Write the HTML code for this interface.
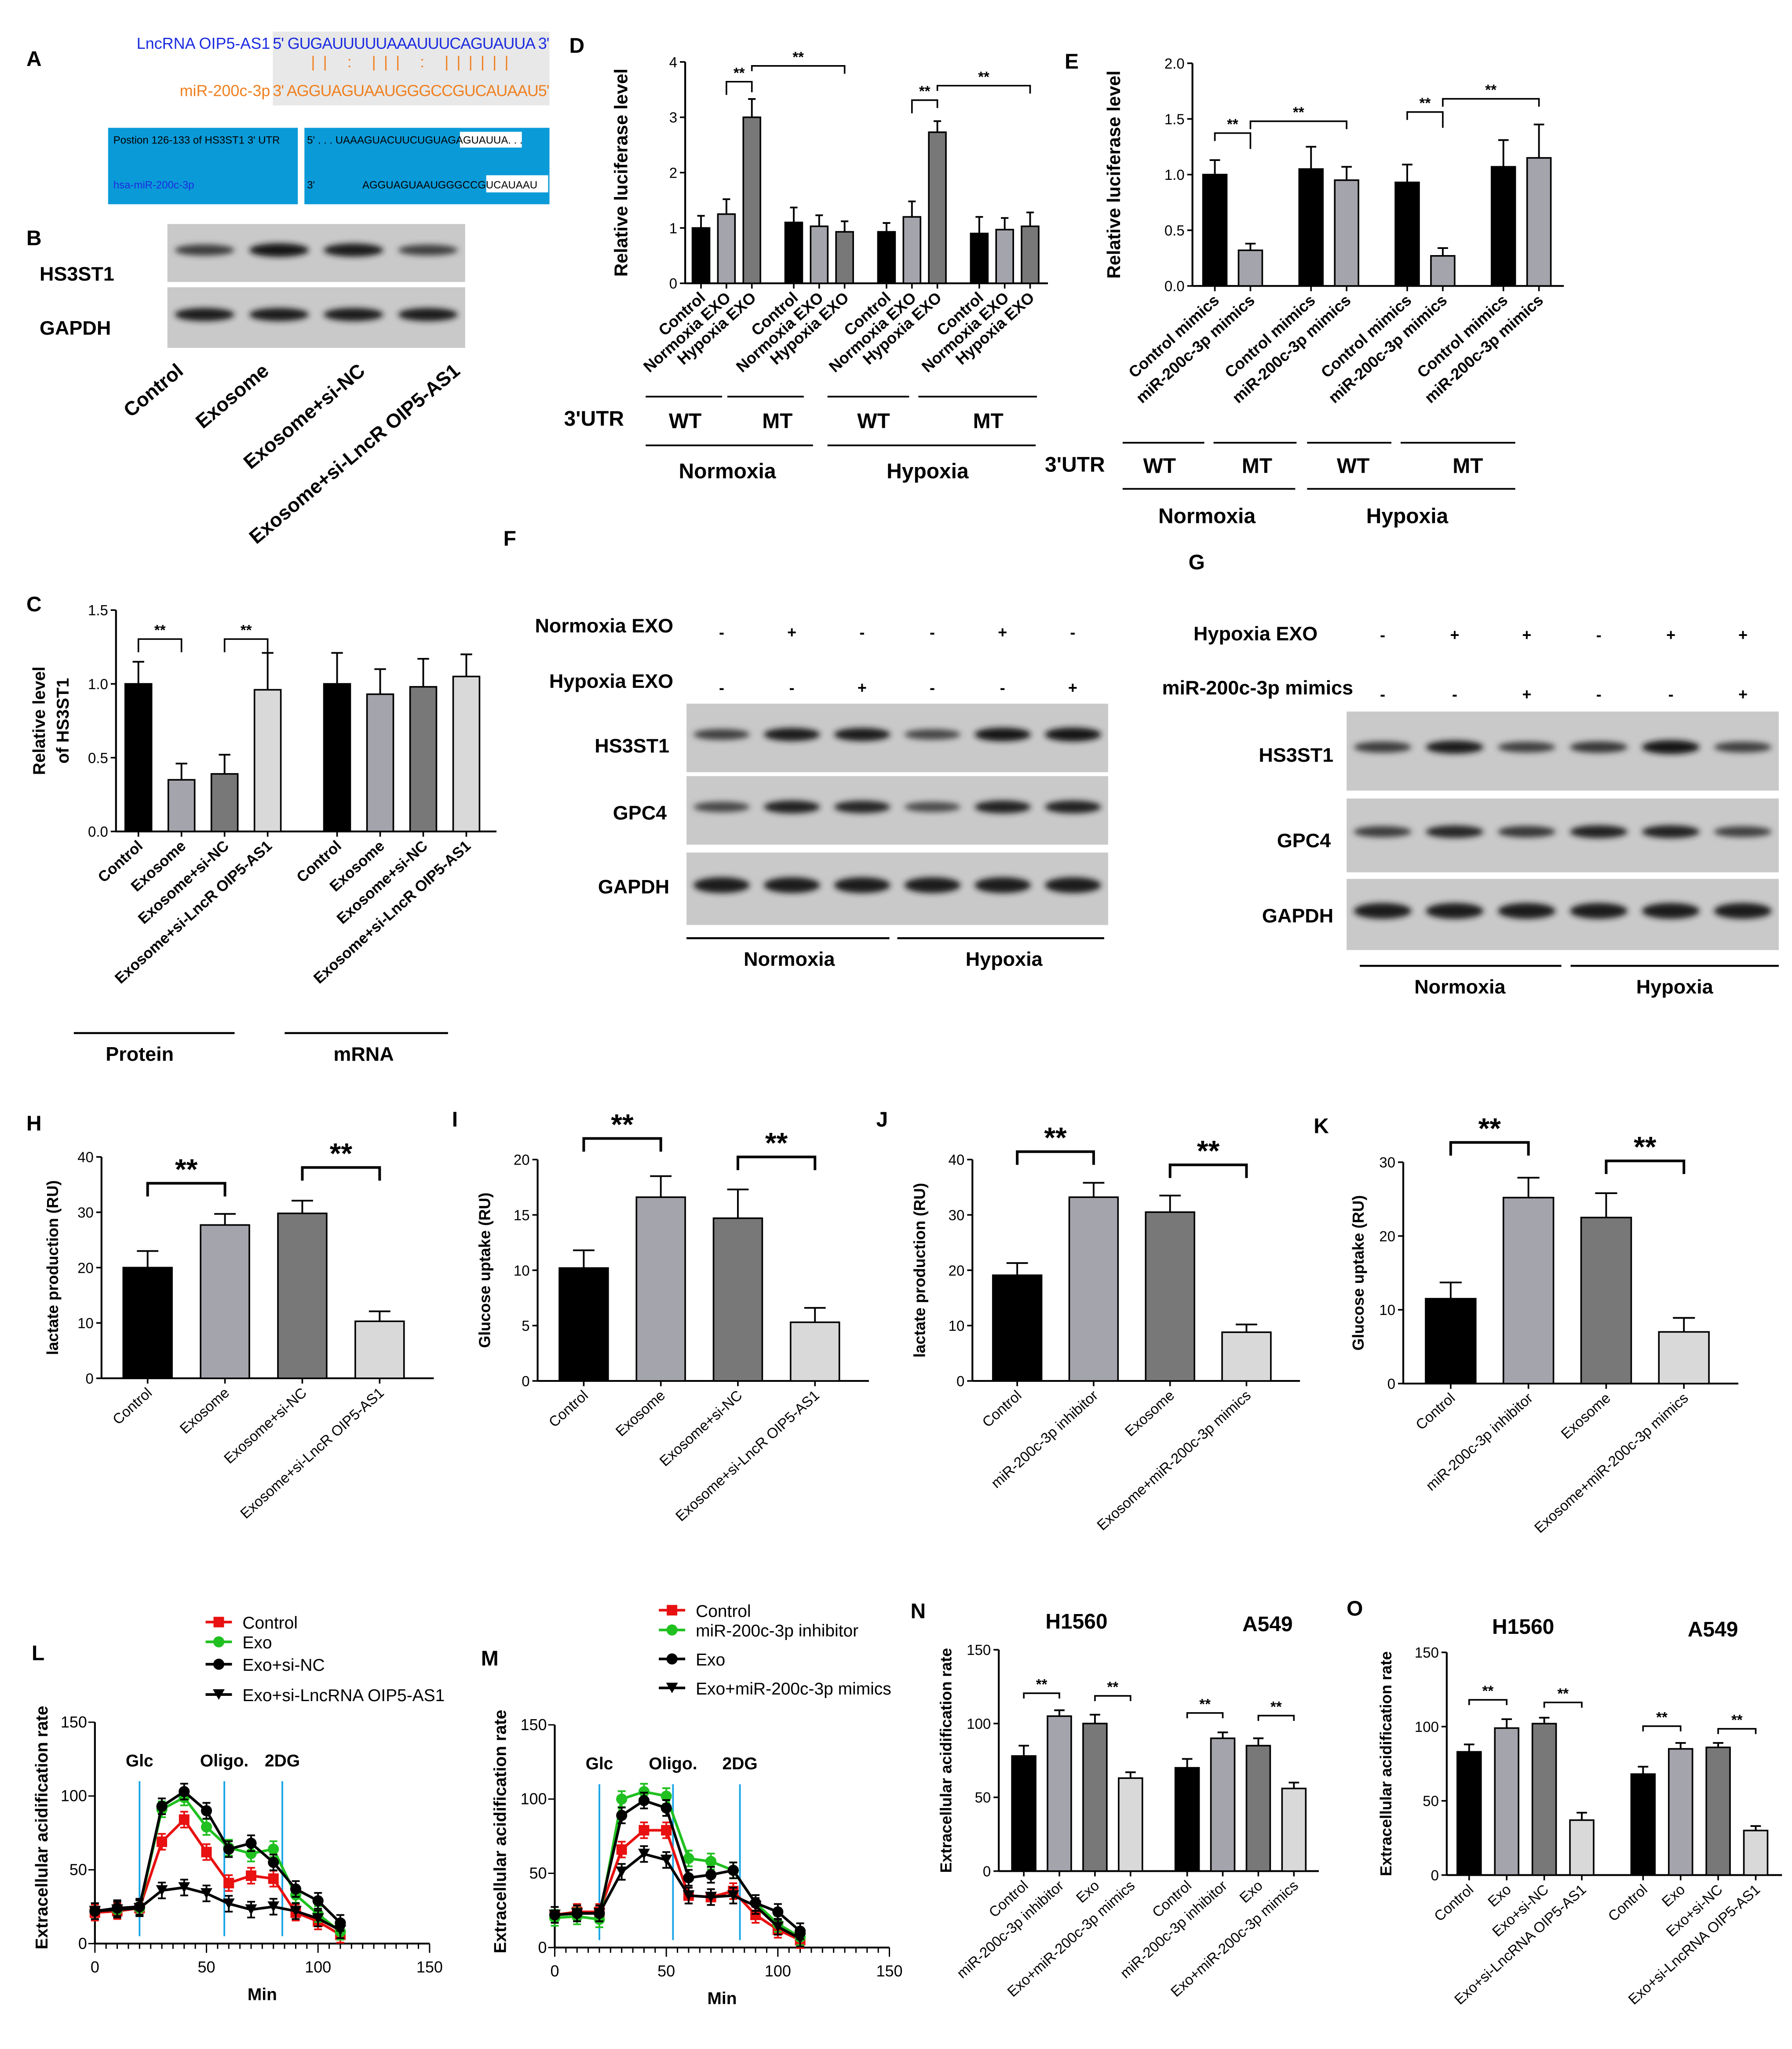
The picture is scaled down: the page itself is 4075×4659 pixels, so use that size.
<!DOCTYPE html>
<html><head><meta charset="utf-8"><style>
html,body{margin:0;padding:0;background:#fff}
svg{display:block}
text{font-family:"Liberation Sans",sans-serif}
.b{font-weight:bold}
</style></head><body>
<svg id="fig" xmlns="http://www.w3.org/2000/svg" width="4075" height="4659" viewBox="0 0 1360 1555">
<defs>
<filter id="blur" x="-20%" y="-50%" width="140%" height="200%"><feGaussianBlur stdDeviation="2.2"/></filter>
</defs>
<g id="static" font-weight="bold">
<text x="20" y="50" font-size="16">A</text>
<text x="20" y="186" font-size="16">B</text>
<text x="20" y="464" font-size="16">C</text>
<text x="432" y="40" font-size="16">D</text>
<text x="808" y="52" font-size="16">E</text>
<text x="382" y="414" font-size="16">F</text>
<text x="902" y="432" font-size="16">G</text>
<text x="20" y="858" font-size="16">H</text>
<text x="343" y="855" font-size="16">I</text>
<text x="665" y="855" font-size="16">J</text>
<text x="997" y="860" font-size="16">K</text>
<text x="24" y="1260" font-size="16">L</text>
<text x="365" y="1264" font-size="16">M</text>
<text x="691" y="1228" font-size="16">N</text>
<text x="1022" y="1226" font-size="16">O</text>
</g>
<g font-size="12">
<rect x="207" y="24" width="210" height="56" fill="#e8e8e8"/>
<text x="205" y="37" text-anchor="end" fill="#1a2be0">LncRNA OIP5-AS1</text>
<text x="207" y="37" fill="#1a2be0" textLength="210">5' GUGAUUUUUAAAUUUCAGUAUUA 3'</text>
<text x="236" y="51" fill="#f08020" font-size="12" textLength="150">|| : |||  :  ||||||</text>
<text x="205" y="73" text-anchor="end" fill="#f08020">miR-200c-3p</text>
<text x="207" y="73" fill="#f08020" textLength="210">3' AGGUAGUAAUGGGCCGUCAUAAU5'</text>
<rect x="82" y="97" width="144" height="58" fill="#0a9ad8"/>
<rect x="231" y="97" width="186" height="58" fill="#0a9ad8"/>
<rect x="349" y="100" width="47" height="12" fill="#fff"/>
<rect x="369" y="133" width="47" height="13" fill="#fff"/>
<text x="86" y="109" font-size="8">Postion 126-133 of HS3ST1 3' UTR</text>
<text x="86" y="143" font-size="8" fill="#1a2be0">hsa-miR-200c-3p</text>
<text x="233" y="109" font-size="8">5' . . . UAAAGUACUUCUGUAGAGUAUUA. . .</text>
<text x="233" y="143" font-size="8">3'</text>
<text x="275" y="143" font-size="8">AGGUAGUAAUGGGCCGUCAUAAU</text>
</g>
<g id="blots"></g>
<g id="texts" font-weight="bold">
<text x="30" y="213" font-size="15">HS3ST1</text>
<text x="30" y="254" font-size="15">GAPDH</text>
<text transform="translate(140,283) rotate(-40)" text-anchor="end" font-size="15">Control</text>
<text transform="translate(205,283) rotate(-40)" text-anchor="end" font-size="15">Exosome</text>
<text transform="translate(278,283) rotate(-40)" text-anchor="end" font-size="15">Exosome+si-NC</text>
<text transform="translate(350,283) rotate(-40)" text-anchor="end" font-size="15">Exosome+si-LncR OIP5-AS1</text>
<text x="511" y="480" text-anchor="end" font-size="15">Normoxia EXO</text>
<text x="511" y="522" text-anchor="end" font-size="15">Hypoxia  EXO</text>
<text x="508" y="571" text-anchor="end" font-size="15">HS3ST1</text>
<text x="506" y="622" text-anchor="end" font-size="15">GPC4</text>
<text x="508" y="678" text-anchor="end" font-size="15">GAPDH</text>
<line x1="521" y1="712" x2="675" y2="712" stroke="#000" stroke-width="1.5"/>
<line x1="681" y1="712" x2="838" y2="712" stroke="#000" stroke-width="1.5"/>
<text x="599" y="733" text-anchor="middle" font-size="15">Normoxia</text>
<text x="762" y="733" text-anchor="middle" font-size="15">Hypoxia</text>
<text x="1000" y="486" text-anchor="end" font-size="15">Hypoxia  EXO</text>
<text x="1027" y="527" text-anchor="end" font-size="15">miR-200c-3p mimics</text>
<text x="1012" y="578" text-anchor="end" font-size="15">HS3ST1</text>
<text x="1010" y="643" text-anchor="end" font-size="15">GPC4</text>
<text x="1012" y="700" text-anchor="end" font-size="15">GAPDH</text>
<line x1="1032" y1="733" x2="1185" y2="733" stroke="#000" stroke-width="1.5"/>
<line x1="1192" y1="733" x2="1350" y2="733" stroke="#000" stroke-width="1.5"/>
<text x="1108" y="754" text-anchor="middle" font-size="15">Normoxia</text>
<text x="1271" y="754" text-anchor="middle" font-size="15">Hypoxia</text>
</g>
<g id="charts"></g>
</svg>
<script>
const cCats = ["Control","Exosome","Exosome+si-NC","Exosome+si-LncR OIP5-AS1","Control","Exosome","Exosome+si-NC","Exosome+si-LncR OIP5-AS1"];
const cVals = [1.0,0.35,0.39,0.96,1.0,0.93,0.98,1.05];
const cErrs = [0.15,0.11,0.13,0.25,0.21,0.17,0.19,0.15];
const cTicks = ["0.0","0.5","1.0","1.5"];
const dCats = ["Control","Normoxia EXO","Hypoxia EXO","Control","Normoxia EXO","Hypoxia EXO","Control","Normoxia EXO","Hypoxia EXO","Control","Normoxia EXO","Hypoxia EXO"];
const dVals = [1.0,1.25,3.0,1.1,1.03,0.93,0.93,1.2,2.73,0.9,0.97,1.03];
const dErrs = [0.22,0.27,0.33,0.27,0.2,0.19,0.16,0.28,0.2,0.3,0.21,0.25];
const dTicks = ["0","1","2","3","4"];
const eCats = ["Control mimics","miR-200c-3p mimics","Control mimics","miR-200c-3p mimics","Control mimics","miR-200c-3p mimics","Control mimics","miR-200c-3p mimics"];
const eVals = [1.0,0.32,1.05,0.95,0.93,0.27,1.07,1.15];
const eErrs = [0.13,0.06,0.2,0.12,0.16,0.07,0.24,0.3];
const eTicks = ["0.0","0.5","1.0","1.5","2.0"];
const hCats = ["Control","Exosome","Exosome+si-NC","Exosome+si-LncR OIP5-AS1"];
const hVals = [20,27.7,29.8,10.3];
const hErrs = [3,2,2.3,1.8];
const hTicks = ["0","10","20","30","40"];
const iCats = ["Control","Exosome","Exosome+si-NC","Exosome+si-LncR OIP5-AS1"];
const iVals = [10.2,16.6,14.7,5.3];
const iErrs = [1.6,1.9,2.6,1.3];
const iTicks = ["0","5","10","15","20"];
const jCats = ["Control","miR-200c-3p inhibitor","Exosome","Exosome+miR-200c-3p mimics"];
const jVals = [19.1,33.2,30.5,8.8];
const jErrs = [2.2,2.6,3,1.4];
const jTicks = ["0","10","20","30","40"];
const kCats = ["Control","miR-200c-3p inhibitor","Exosome","Exosome+miR-200c-3p mimics"];
const kVals = [11.5,25.2,22.5,7];
const kErrs = [2.2,2.7,3.3,1.9];
const kTicks = ["0","10","20","30"];
const nCats = ["Control","miR-200c-3p inhibitor","Exo","Exo+miR-200c-3p mimics","Control","miR-200c-3p inhibitor","Exo","Exo+miR-200c-3p mimics"];
const nVals = [78,105,100,63,70,90,85,56];
const nErrs = [7,4,6,4,6,4,5,4];
const oCats = ["Control","Exo","Exo+si-NC","Exo+si-LncRNA OIP5-AS1","Control","Exo","Exo+si-NC","Exo+si-LncRNA OIP5-AS1"];
const oVals = [83,99,102,37,68,85,86,30];
const oErrs = [5,6,4,5,5,4,3,3];
const ecarTicks = ["0","50","100","150"];
const minTicks = ["0","50","100","150"];
const times = [0,10,20,30,40,50,60,70,80,90,100,110];
const lControl = [21,22,24,69,84,62,41,46,44,21,15,6];
const lExo = [22,23,24,91,99,79,65,61,64,33,20,8];
const lExoSiNC = [22,24,25,93,103,90,64,68,55,37,29,14];
const lExoSiLnc = [22,23,24,36,38,34,27,23,25,22,17,9];
const mControl = [22,24,24,66,79,79,35,34,38,22,12,5];
const mInhib = [20,21,19,100,105,102,60,58,52,30,16,7];
const mExo = [22,23,23,89,99,94,47,49,52,30,24,11];
const mMimic = [22,23,23,51,63,59,35,34,35,28,14,6];
const lInject = [20,58,84];
const mInject = [20,53,83];
const bHS = [0.6,0.95,0.9,0.55];
const bGAP = [0.9,0.9,0.9,0.9];
const fHS = [0.55,0.9,0.9,0.5,0.95,1.0];
const fGPC = [0.5,0.85,0.8,0.45,0.85,0.85];
const fGAP = [0.9,0.9,0.9,0.9,0.9,0.9];
const gHS = [0.6,0.9,0.55,0.65,1.0,0.55];
const gGPC = [0.6,0.8,0.65,0.85,0.85,0.55];
const gGAP = [0.9,0.9,0.9,0.9,0.9,0.9];
const fNorm = ["-","+","-","-","+","-"];
const fHyp = ["-","-","+","-","-","+"];
const gHyp = ["-","+","+","-","+","+"];
const gMim = ["-","-","+","-","-","+"];

const NS="http://www.w3.org/2000/svg";
const charts=document.getElementById('charts');
function el(tag,attrs,parent,txt){const e=document.createElementNS(NS,tag);for(const k in attrs)e.setAttribute(k,attrs[k]);if(txt!==undefined)e.textContent=txt;(parent||charts).appendChild(e);return e;}
const grays=["#000","#a4a4ac","#787878","#d9d9d9"];

function barChart(o){
  const g=el('g',{});
  
  
  const ymax=o.ymax;
  const Y=v=>o.y0-(v/ymax)*(o.y0-o.ytop);
  const X=i=>o.x0+i*o.step+Math.floor(i/o.gsize)*o.gap;
  const xEnd=X(o.vals.length-1)+o.step*0.7;
  el('line',{x1:o.ax,y1:o.y0,x2:o.ax,y2:o.ytop,stroke:'#000','stroke-width':1.4},g);
  el('line',{x1:o.ax,y1:o.y0,x2:xEnd,y2:o.y0,stroke:'#000','stroke-width':1.4},g);
  o.ticks.forEach((t,k)=>{const y=Y(ymax*k/(o.ticks.length-1));
    el('line',{x1:o.ax-4,y1:y,x2:o.ax,y2:y,stroke:'#000','stroke-width':1.2},g);
    const tt=el('text',{x:o.ax-6,y:y+4,'text-anchor':'end','font-size':o.tfs||11},g,t);
    
    });
  o.vals.forEach((v,i)=>{const cx=X(i),w=o.w;
    const col=o.colors[i%o.colors.length];
    const r=el('rect',{x:cx-w/2,y:Y(v),width:w,height:o.y0-Y(v),fill:col,stroke:'#000','stroke-width':1.2},g);
    
    
    const ye=Y(v+o.errs[i]);
    el('line',{x1:cx,y1:Y(v),x2:cx,y2:ye,stroke:'#000','stroke-width':1.3},g);
    el('line',{x1:cx-w*0.22,y1:ye,x2:cx+w*0.22,y2:ye,stroke:'#000','stroke-width':1.3},g);
    el('line',{x1:cx,y1:o.y0,x2:cx,y2:o.y0+4,stroke:'#000','stroke-width':1.2},g);
    const lt=el('text',{transform:`translate(${cx+4},${o.y0+12}) rotate(-42)`,'text-anchor':'end','font-size':o.cfs||11,'font-weight':o.cbold?'bold':'normal'},g,o.cats[i]);
    
    });
  const yt=el('text',{transform:`translate(${o.ylx},${(o.y0+o.ytop)/2}) rotate(-90)`,'text-anchor':'middle','font-size':o.yfs||13,'font-weight':'bold'},g,o.ylabel);
  
  
  (o.sig||[]).forEach(s=>{const x1=X(s[0]),x2=X(s[1]),y=s[2];
    el('polyline',{points:`${x1},${y+s[3]} ${x1},${y} ${x2},${y} ${x2},${y+s[4]}`,fill:'none',stroke:'#000','stroke-width':s[5]||1.2},g);
    const st=el('text',{x:(x1+x2)/2,y:y-3,'text-anchor':'middle','font-size':s[6]||11,'font-weight':'bold'},g,'**');
    
    });
  return g;
}

barChart({name:'chart-c',ax:88,y0:631,ytop:463,ymax:1.5,ticks:cTicks,x0:105,step:32.7,gsize:4,gap:20,w:20,vals:cVals,errs:cErrs,cats:cCats,colors:grays,cbold:true,cfs:11.5,ylabel:'',ylx:30,sig:[[0,1,485,10,10],[2,3,485,10,10]]});
el('text',{transform:'translate(34,547) rotate(-90)','text-anchor':'middle','font-size':13,'font-weight':'bold'},null,'Relative level');
el('text',{transform:'translate(52,547) rotate(-90)','text-anchor':'middle','font-size':13,'font-weight':'bold'},null,'of HS3ST1');
el('line',{x1:56,y1:784,x2:178,y2:784,stroke:'#000','stroke-width':1.5});
el('line',{x1:216,y1:784,x2:340,y2:784,stroke:'#000','stroke-width':1.5});
el('text',{x:106,y:805,'text-anchor':'middle','font-size':15,'font-weight':'bold'},null,'Protein');
el('text',{x:276,y:805,'text-anchor':'middle','font-size':15,'font-weight':'bold'},null,'mRNA');

barChart({name:'chart-d',ax:520,y0:215,ytop:47,ymax:4,ticks:dTicks,x0:532,step:19.3,gsize:3,gap:12.5,w:13,vals:dVals,errs:dErrs,cats:dCats,colors:["#000","#a4a4ac","#787878"],cbold:true,cfs:12,ylabel:'Relative luciferase level',ylx:476,yfs:14,sig:[[1,2,62,10,8],[2,5,50,4,6],[7,8,76,10,6],[8,11,65,4,6]]});
[[490,548,'WT',520],[552,610,'MT',590],[628,690,'WT',663],[697,787,'MT',750]].forEach(a=>{el('line',{x1:a[0],y1:301,x2:a[1],y2:301,stroke:'#000','stroke-width':1.3});el('text',{x:a[3],y:325,'text-anchor':'middle','font-size':16,'font-weight':'bold'},null,a[2]);});
el('text',{x:428,y:323,'font-size':16,'font-weight':'bold'},null,"3'UTR");
el('line',{x1:490,y1:338,x2:617,y2:338,stroke:'#000','stroke-width':1.3});
el('line',{x1:628,y1:338,x2:786,y2:338,stroke:'#000','stroke-width':1.3});
el('text',{x:552,y:363,'text-anchor':'middle','font-size':16,'font-weight':'bold'},null,'Normoxia');
el('text',{x:704,y:363,'text-anchor':'middle','font-size':16,'font-weight':'bold'},null,'Hypoxia');

barChart({name:'chart-e',ax:905,y0:217,ytop:48,ymax:2,ticks:eTicks,x0:922,step:27,gsize:2,gap:19,w:18,vals:eVals,errs:eErrs,cats:eCats,colors:["#000","#a4a4ac"],cbold:true,cfs:12,ylabel:'Relative luciferase level',ylx:850,yfs:14,sig:[[0,1,101,6,12],[1,3,92,6,6],[4,5,85,6,12],[5,7,75,6,6]]});
[[852,914,'WT',880],[921,984,'MT',954],[992,1056,'WT',1027],[1063,1150,'MT',1114]].forEach(a=>{el('line',{x1:a[0],y1:336,x2:a[1],y2:336,stroke:'#000','stroke-width':1.3});el('text',{x:a[3],y:359,'text-anchor':'middle','font-size':16,'font-weight':'bold'},null,a[2]);});
el('text',{x:793,y:358,'font-size':16,'font-weight':'bold'},null,"3'UTR");
el('line',{x1:852,y1:371,x2:983,y2:371,stroke:'#000','stroke-width':1.3});
el('line',{x1:992,y1:371,x2:1150,y2:371,stroke:'#000','stroke-width':1.3});
el('text',{x:916,y:397,'text-anchor':'middle','font-size':16,'font-weight':'bold'},null,'Normoxia');
el('text',{x:1068,y:397,'text-anchor':'middle','font-size':16,'font-weight':'bold'},null,'Hypoxia');

barChart({name:'chart-h',ax:77,y0:1046,ytop:878,ymax:40,ticks:hTicks,x0:112,step:58.7,gsize:4,gap:0,w:37,vals:hVals,errs:hErrs,cats:hCats,colors:grays,ylabel:'lactate production (RU)',ylx:44,yfs:12,sig:[[0,1,898,10,10,2,22],[2,3,886,10,10,2,22]]});
barChart({name:'chart-i',ax:408,y0:1048,ytop:880,ymax:20,ticks:iTicks,x0:443,step:58.5,gsize:4,gap:0,w:37,vals:iVals,errs:iErrs,cats:iCats,colors:grays,ylabel:'Glucose uptake (RU)',ylx:372,yfs:12,sig:[[0,1,864,10,10,2,22],[2,3,878,10,10,2,22]]});
barChart({name:'chart-j',ax:738,y0:1048,ytop:880,ymax:40,ticks:jTicks,x0:772,step:58,gsize:4,gap:0,w:37,vals:jVals,errs:jErrs,cats:jCats,colors:grays,ylabel:'lactate production (RU)',ylx:702,yfs:12,sig:[[0,1,874,10,10,2,22],[2,3,884,10,10,2,22]]});
barChart({name:'chart-k',ax:1065,y0:1050,ytop:882,ymax:30,ticks:kTicks,x0:1101,step:59,gsize:4,gap:0,w:38,vals:kVals,errs:kErrs,cats:kCats,colors:grays,ylabel:'Glucose uptake (RU)',ylx:1035,yfs:12,sig:[[0,1,867,10,10,2,22],[2,3,881,10,10,2,22]]});
barChart({name:'chart-n',ax:758,y0:1420,ytop:1252,ymax:150,ticks:ecarTicks,x0:777,step:27,gsize:4,gap:16,w:18,vals:nVals,errs:nErrs,cats:nCats,colors:grays,ylabel:'Extracellular acidification rate',ylx:722,yfs:12,sig:[[0,1,1285,4,4],[2,3,1287,4,4],[4,5,1300,4,4],[6,7,1302,4,4]]});
el('text',{x:817,y:1236,'text-anchor':'middle','font-size':16,'font-weight':'bold'},null,'H1560');
el('text',{x:962,y:1238,'text-anchor':'middle','font-size':16,'font-weight':'bold'},null,'A549');
barChart({name:'chart-o',ax:1098,y0:1423,ytop:1254,ymax:150,ticks:ecarTicks,x0:1115,step:28.5,gsize:4,gap:18,w:18,vals:oVals,errs:oErrs,cats:oCats,colors:grays,ylabel:'Extracellular acidification rate',ylx:1056,yfs:12,sig:[[0,1,1290,4,4],[2,3,1292,4,4],[4,5,1310,4,4],[6,7,1312,4,4]]});
el('text',{x:1156,y:1240,'text-anchor':'middle','font-size':16,'font-weight':'bold'},null,'H1560');
el('text',{x:1300,y:1242,'text-anchor':'middle','font-size':16,'font-weight':'bold'},null,'A549');

function lineChart(o){
  const g=el('g',{});
  
  
  const X=t=>o.x0+t/150*(o.x1-o.x0), Y=v=>o.y0-v/150*(o.y0-o.ytop);
  el('line',{x1:o.x0,y1:o.y0,x2:o.x0,y2:o.ytop,stroke:'#000','stroke-width':1.4},g);
  el('line',{x1:o.x0,y1:o.y0,x2:o.x1,y2:o.y0,stroke:'#000','stroke-width':1.4},g);
  for(let t=0;t<=150;t+=5){el('line',{x1:X(t),y1:o.y0,x2:X(t),y2:o.y0+(t%50?4:7),stroke:'#000','stroke-width':1},g);}
  minTicks.forEach((t,k)=>{const x=X(k*50);const tx=el('text',{x:x,y:o.y0+22,'text-anchor':'middle','font-size':12},g,t);
    
    });
  ecarTicks.forEach((t,k)=>{const y=Y(k*50);el('line',{x1:o.x0-5,y1:y,x2:o.x0,y2:y,stroke:'#000'},g);
    const ty=el('text',{x:o.x0-6,y:y+4,'text-anchor':'end','font-size':12},g,t);
    
    });
  const xt=el('text',{x:X(75),y:o.y0+43,'text-anchor':'middle','font-size':13,'font-weight':'bold'},g,'Min');
  
  
  const yt=el('text',{transform:`translate(${o.ylx},${o.y0-88}) rotate(-90)`,'text-anchor':'middle','font-size':13,'font-weight':'bold'},g,'Extracellular acidification rate');
  
  
  const labs=['Glc','Oligo.','2DG'];
  o.inject.forEach((t,k)=>{el('line',{x1:X(t),y1:Y(110),x2:X(t),y2:Y(5),stroke:'#1aa6e6','stroke-width':1.3},g);
    const lt=el('text',{x:X(t),y:Y(120),'text-anchor':'middle','font-size':13,'font-weight':'bold'},g,labs[k]);
    
    });
  o.series.forEach((s,si)=>{
    const pts=times.map((t,i)=>X(t)+','+Y(s.v[i])).join(' ');
    const pl=el('polyline',{points:pts,fill:'none',stroke:s.c,'stroke-width':2},g);
    
    
    times.forEach((t,i)=>{const x=X(t),y=Y(s.v[i]);
      el('line',{x1:x,y1:y-6,x2:x,y2:y+6,stroke:s.c,'stroke-width':1.3},g);
      el('line',{x1:x-3,y1:y-6,x2:x+3,y2:y-6,stroke:s.c,'stroke-width':1.3},g);
      el('line',{x1:x-3,y1:y+6,x2:x+3,y2:y+6,stroke:s.c,'stroke-width':1.3},g);
      marker(g,s.m,x,y,s.c);});
    const ly=o.legY[si];
    el('line',{x1:o.legX-10,y1:ly,x2:o.legX+10,y2:ly,stroke:s.c,'stroke-width':2},g);
    marker(g,s.m,o.legX,ly,s.c);
    const lg=el('text',{x:o.legX+18,y:ly+5,'font-size':13},g,s.n);
    
    
  });
}
function marker(g,m,x,y,c){
  let e;
  if(m==='s')e=el('rect',{x:x-4,y:y-4,width:8,height:8,fill:c},g);
  else if(m==='c')e=el('circle',{cx:x,cy:y,r:4.2,fill:c},g);
  else e=el('polygon',{points:`${x-4.5},${y-4} ${x+4.5},${y-4} ${x},${y+4}`,fill:c},g);
  
  
}
lineChart({name:'chart-l',x0:72,x1:326,y0:1475,ytop:1307,ylx:36,inject:lInject,legX:166,legY:[1231,1246,1263,1286],
  series:[{n:'Control',v:lControl,c:'#e81010',m:'s'},{n:'Exo',v:lExo,c:'#20c020',m:'c'},{n:'Exo+si-NC',v:lExoSiNC,c:'#000',m:'c'},{n:'Exo+si-LncRNA OIP5-AS1',v:lExoSiLnc,c:'#000',m:'t'}]});
lineChart({name:'chart-m',x0:421,x1:675,y0:1478,ytop:1309,ylx:384,inject:mInject,legX:510,legY:[1222,1237,1259,1281],
  series:[{n:'Control',v:mControl,c:'#e81010',m:'s'},{n:'miR-200c-3p inhibitor',v:mInhib,c:'#20c020',m:'c'},{n:'Exo',v:mExo,c:'#000',m:'c'},{n:'Exo+miR-200c-3p mimics',v:mMimic,c:'#000',m:'t'}]});

const blots=document.getElementById('blots');
function blot(name,x,y,w,h,vals,bandH){
  const g=el('g',{},blots);
  
  
  el('rect',{x:x,y:y,width:w,height:h,fill:'#c9c9c9'},g);
  const n=vals.length,lw=w/n;
  vals.forEach((v,i)=>{const cx=x+lw*(i+0.5);
    const b=el('ellipse',{cx:cx,cy:y+h*0.45,rx:lw*0.4,ry:bandH*(0.55+0.5*v),fill:`rgb(${Math.round(120-100*v)},${Math.round(120-100*v)},${Math.round(120-100*v)})`,filter:'url(#blur)'},g);
    
    });
}
blot('blot-b-hs3st1',127,170,226,44,bHS,5);
blot('blot-b-gapdh',127,218,226,46,bGAP,5);
blot('blot-f-hs3st1',521,534,320,52,fHS,5);
blot('blot-f-gpc4',521,589,320,52,fGPC,5);
blot('blot-f-gapdh',521,647,320,55,fGAP,6);
blot('blot-g-hs3st1',1022,540,328,60,gHS,5);
blot('blot-g-gpc4',1022,606,328,56,gGPC,5);
blot('blot-g-gapdh',1022,667,328,54,gGAP,6);
function signs(arr,x0,lw,y,name){arr.forEach((s,i)=>{const t=el('text',{x:x0+lw*(i+0.5),y:y,'text-anchor':'middle','font-size':12,'font-weight':'bold'},blots,s);
  
  });}
signs(fNorm,521,53.3,484,'normoxia-exo-sign');
signs(fHyp,521,53.3,526,'hypoxia-exo-sign');
signs(gHyp,1022,54.7,486,'hypoxia-exo-sign');
signs(gMim,1022,54.7,531,'mimics-sign');
</script>
</body></html>
